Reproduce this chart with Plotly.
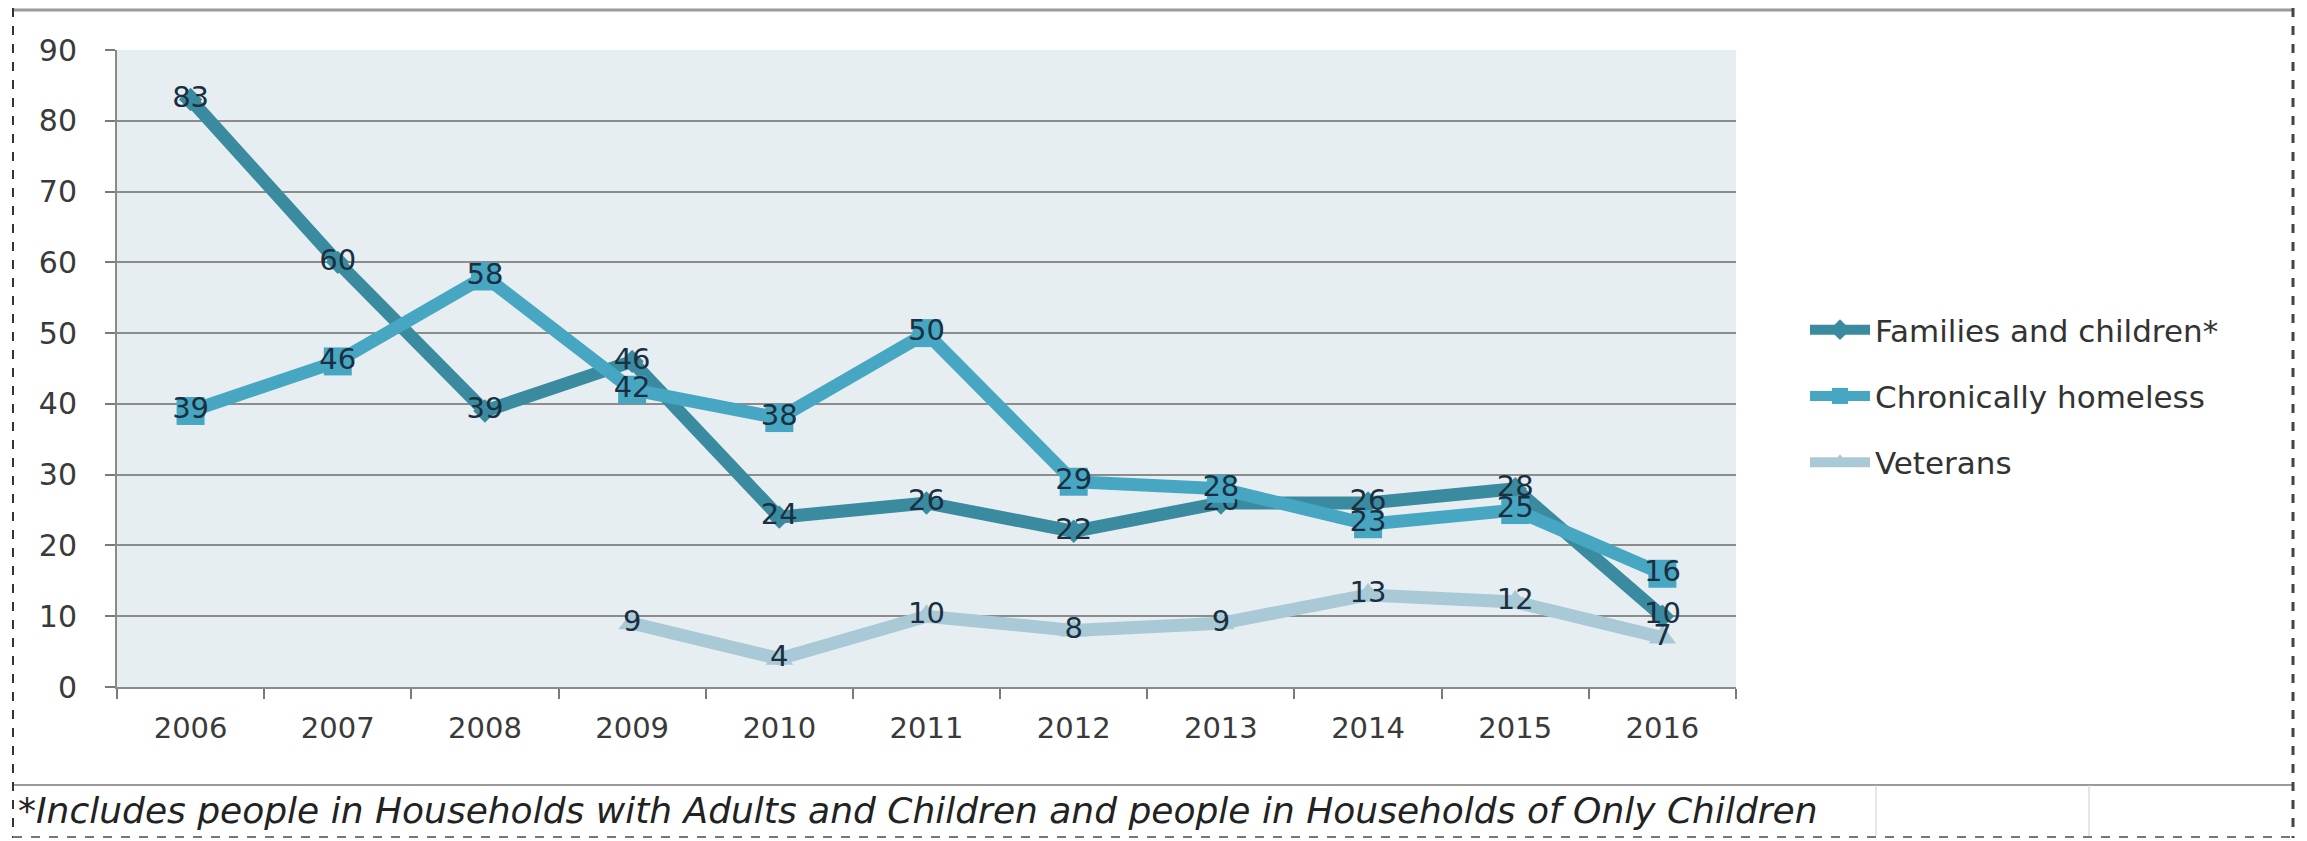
import plotly.graph_objects as go

years = ["2006", "2007", "2008", "2009", "2010", "2011", "2012", "2013", "2014", "2015", "2016"]
families = [83, 60, 39, 46, 24, 26, 22, 26, 26, 28, 10]
chronic = [39, 46, 58, 42, 38, 50, 29, 28, 23, 25, 16]
veterans = [None, None, None, 9, 4, 10, 8, 9, 13, 12, 7]
y_ticks = [0, 10, 20, 30, 40, 50, 60, 70, 80, 90]

series_names = ["Families and children*", "Chronically homeless", "Veterans"]
colors = ["#3b8ba0", "#47a7c3", "#a9c9d6"]
symbols = ["diamond", "square", "triangle-up"]
msizes = [18, 28, 24]
footnote = "*Includes people in Households with Adults and Children and people in Households of Only Children"

FONT = "DejaVu Sans"
OFF = 8  # page body margin offset
W, H = 2307 - OFF, 841 - OFF
# plot area in reference pixel coordinates
L, R, T, B = 117, 1736, 50, 687

def px(X):
    return (X - L) / (R - L)

def py(Y):
    return (B - Y) / (B - T)

fig = go.Figure()
for name, vals, col, sym, ms in zip(series_names, [families, chronic, veterans], colors, symbols, msizes):
    fig.add_trace(go.Scatter(
        x=years, y=vals, name=name, mode="lines+markers+text",
        line=dict(color=col, width=13),
        marker=dict(symbol=sym, size=ms, color=col),
        text=[("" if v is None else str(v)) for v in vals],
        textposition="middle center",
        textfont=dict(family=FONT, size=29, color="#1a3040"),
        legendgroup=name, connectgaps=False,
    ))

fig.update_layout(
    width=W, height=H,
    margin=dict(l=L - OFF, r=W - (R - OFF), t=T - OFF, b=H - (B - OFF)),
    paper_bgcolor="white", plot_bgcolor="#e7eef2",
    font=dict(family=FONT, size=30, color="#3a3a3a"),
    showlegend=True,
    legend=dict(x=px(1805), y=py(303), xanchor="left", yanchor="top",
                font=dict(family=FONT, size=31, color="#333333"),
                tracegroupgap=23, bgcolor="rgba(0,0,0,0)", itemwidth=60),
    xaxis=dict(type="category", tickson="boundaries", ticks="outside", ticklen=10,
               tickcolor="#7a7a7a", tickwidth=2, showline=True, linecolor="#8a8a8a",
               linewidth=2, showgrid=False, range=[-0.5, 10.5], ticklabelstandoff=14,
               tickfont=dict(family=FONT, size=29, color="#3a3a3a")),
    yaxis=dict(range=[0, 90], tickvals=y_ticks, ticks="outside", ticklen=10,
               tickcolor="#7a7a7a", tickwidth=2, showgrid=True, gridcolor="#8c8c8c",
               gridwidth=2, showline=True, linecolor="#8a8a8a", linewidth=2,
               zeroline=False, ticklabelstandoff=22,
               tickfont=dict(family=FONT, size=30, color="#3a3a3a")),
)

shapes = [
    dict(type="line", xref="paper", yref="paper", x0=px(13), x1=px(2293), y0=py(10), y1=py(10),
         line=dict(color="#9a9a9a", width=3)),
    dict(type="line", xref="paper", yref="paper", x0=px(13), x1=px(2293), y0=py(785), y1=py(785),
         line=dict(color="#9a9a9a", width=2)),
    dict(type="line", xref="paper", yref="paper", x0=px(1876), x1=px(1876), y0=py(785), y1=py(836),
         line=dict(color="#cccccc", width=1)),
    dict(type="line", xref="paper", yref="paper", x0=px(2089), x1=px(2089), y0=py(785), y1=py(836),
         line=dict(color="#cccccc", width=1)),
    dict(type="line", xref="paper", yref="paper", x0=px(13), x1=px(13), y0=py(8), y1=py(838),
         line=dict(color="#333333", width=2, dash="dash")),
    dict(type="line", xref="paper", yref="paper", x0=px(2293), x1=px(2293), y0=py(8), y1=py(838),
         line=dict(color="#444444", width=3, dash="dash")),
    dict(type="line", xref="paper", yref="paper", x0=px(13), x1=px(2293), y0=py(837), y1=py(837),
         line=dict(color="#777777", width=2, dash="dash")),
]
fig.update_layout(shapes=shapes)
fig.add_annotation(xref="paper", yref="paper", x=px(16), y=py(810), xanchor="left", yanchor="middle",
                   text="<i>" + footnote + "</i>", showarrow=False,
                   font=dict(family=FONT, size=36, color="#222222"))

fig.write_html("out.html")
